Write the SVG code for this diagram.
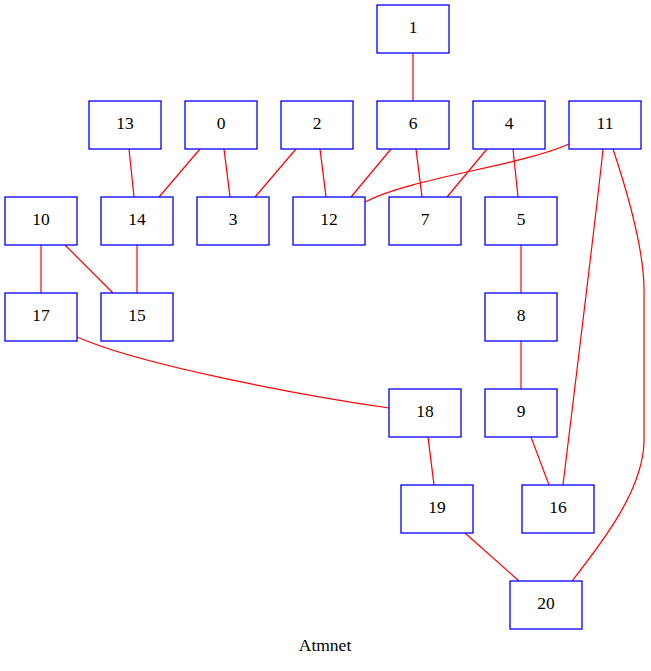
<svg xmlns="http://www.w3.org/2000/svg" width="651" height="671" viewBox="0 0 651 671">
<style>
.n rect{fill:#ffffff;stroke:#0000ff;stroke-width:1.3}
.n text,.lbl{font-family:"Liberation Serif","Times New Roman",serif;font-size:17.5px;fill:#000000;text-anchor:middle}
.e path{fill:none;stroke:#ff0000;stroke-width:1.2}
</style>
<rect width="651" height="671" fill="#ffffff"/>
<g id="edges" class="e">
<path d="M413,53 L413,101"/>
<path d="M129,149 L134,197"/>
<path d="M200,149 L159,197"/>
<path d="M224,149 L230,197"/>
<path d="M296,149 L255,197"/>
<path d="M320,149 L326,197"/>
<path d="M391,149 L351,197"/>
<path d="M416,149 L422,197"/>
<path d="M487,149 L447,197"/>
<path d="M513,149 L518,197"/>
<path d="M569,144 C520,166 410,178 365,202"/>
<path d="M603,149 C598,200 572,410 563,485"/>
<path d="M613,149 C625,185 644,245 644,290 C644,340 644,400 644,440 C644,490 600,545 572,581"/>
<path d="M41,245 L41,293"/>
<path d="M65,245 L113,293"/>
<path d="M137,245 L137,293"/>
<path d="M77,337 C140,365 300,395 389,408"/>
<path d="M521,245 L521,293"/>
<path d="M521,341 L521,389"/>
<path d="M531,437 L549,485"/>
<path d="M428,437 L434,485"/>
<path d="M465,533 L519,581"/>
</g>
<g id="node1" class="n"><rect x="377" y="5" width="72" height="48"/><text x="413" y="33">1</text></g>
<g id="node13" class="n"><rect x="89" y="101" width="72" height="48"/><text x="125" y="129">13</text></g>
<g id="node0" class="n"><rect x="185" y="101" width="72" height="48"/><text x="221" y="129">0</text></g>
<g id="node2" class="n"><rect x="281" y="101" width="72" height="48"/><text x="317" y="129">2</text></g>
<g id="node6" class="n"><rect x="377" y="101" width="72" height="48"/><text x="413" y="129">6</text></g>
<g id="node4" class="n"><rect x="473" y="101" width="72" height="48"/><text x="509" y="129">4</text></g>
<g id="node11" class="n"><rect x="569" y="101" width="72" height="48"/><text x="605" y="129">11</text></g>
<g id="node10" class="n"><rect x="5" y="197" width="72" height="48"/><text x="41" y="225">10</text></g>
<g id="node14" class="n"><rect x="101" y="197" width="72" height="48"/><text x="137" y="225">14</text></g>
<g id="node3" class="n"><rect x="197" y="197" width="72" height="48"/><text x="233" y="225">3</text></g>
<g id="node12" class="n"><rect x="293" y="197" width="72" height="48"/><text x="329" y="225">12</text></g>
<g id="node7" class="n"><rect x="389" y="197" width="72" height="48"/><text x="425" y="225">7</text></g>
<g id="node5" class="n"><rect x="485" y="197" width="72" height="48"/><text x="521" y="225">5</text></g>
<g id="node17" class="n"><rect x="5" y="293" width="72" height="48"/><text x="41" y="321">17</text></g>
<g id="node15" class="n"><rect x="101" y="293" width="72" height="48"/><text x="137" y="321">15</text></g>
<g id="node8" class="n"><rect x="485" y="293" width="72" height="48"/><text x="521" y="321">8</text></g>
<g id="node18" class="n"><rect x="389" y="389" width="72" height="48"/><text x="425" y="417">18</text></g>
<g id="node9" class="n"><rect x="485" y="389" width="72" height="48"/><text x="521" y="417">9</text></g>
<g id="node19" class="n"><rect x="401" y="485" width="72" height="48"/><text x="437" y="513">19</text></g>
<g id="node16" class="n"><rect x="522" y="485" width="72" height="48"/><text x="558" y="513">16</text></g>
<g id="node20" class="n"><rect x="510" y="581" width="72" height="48"/><text x="546" y="609">20</text></g>
<text class="lbl" x="325" y="651">Atmnet</text>
</svg>
